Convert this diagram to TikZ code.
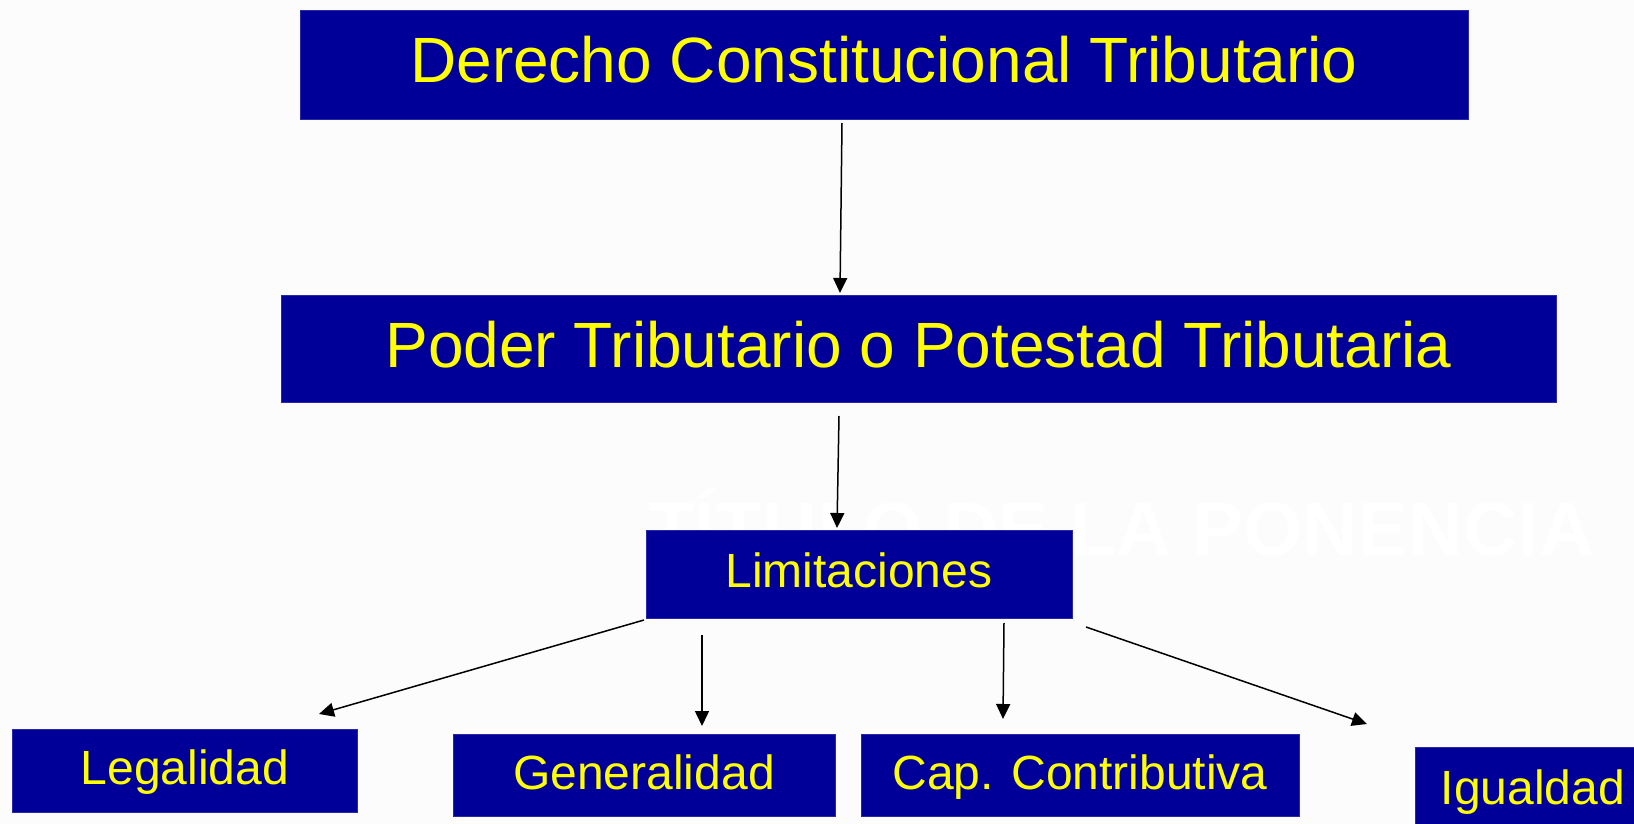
\documentclass[tikz,border=0pt]{standalone}
\usepackage{fontspec}
\setmainfont{Liberation Sans}
\usetikzlibrary{arrows.meta}
\definecolor{boxblue}{RGB}{0,0,153}
\definecolor{boxedge}{RGB}{40,40,170}
\definecolor{txtyellow}{RGB}{255,255,0}
\definecolor{bgwhite}{RGB}{252,252,252}
\tikzset{
  box/.style={rectangle, fill=boxblue, draw=boxedge, line width=1pt, inner sep=0pt,
    text=txtyellow, align=center},
  bigbox/.style={box, font=\fontsize{64}{64}\selectfont, text height=46pt, text depth=11pt},
  smallbox/.style={box, font=\fontsize{48}{48}\selectfont, text height=35pt, text depth=7pt},
  conn/.style={draw=black, line width=1.5pt, -{Triangle[length=15pt,width=14pt]}}
}
\begin{document}
\begin{tikzpicture}[x=1pt,y=-1pt]
\useasboundingbox (0,0) rectangle (1634,824);
\clip (0,0) rectangle (1634,824);
\fill[bgwhite] (0,0) rectangle (1634,824);
\node[anchor=base west, text=white, inner sep=0pt, font=\bfseries\fontsize{76}{76}\selectfont] (ghost) at (648,555) {TÍTULO DE LA PONENCIA};

\node[bigbox, minimum width=1168pt, minimum height=109pt] (dct) at (884,65.5) {Derecho Constitucional Tributario};
\node[bigbox, minimum width=1275pt, minimum height=107pt, text depth=9pt] (ptr) at (918.5,348.5) {Poder Tributario o Potestad Tributaria};
\node[smallbox, minimum width=426pt, minimum height=88pt, text depth=9pt] (lim) at (859,574) {Limitaciones};
\node[smallbox, minimum width=345pt, minimum height=83pt] (leg) at (185,770.5) {Legalidad};
\node[smallbox, minimum width=382pt, minimum height=82pt] (gen) at (644,775) {Generalidad};
\node[smallbox, minimum width=438pt, minimum height=82pt] (cap) at (1080,775) {Cap. Contributiva};
\node[smallbox, minimum width=236pt, minimum height=82pt, text depth=3pt] (igu) at (1533,788) {Igualdad};

\coordinate (a1s) at (842,123);  \coordinate (a1e) at (840,293);
\coordinate (a2s) at (839,416);  \coordinate (a2e) at (837,528);
\coordinate (a3s) at (644,620);  \coordinate (a3e) at (319,714);
\coordinate (a4s) at (702,635);  \coordinate (a4e) at (702,726);
\coordinate (a5s) at (1004,623); \coordinate (a5e) at (1003,719);
\coordinate (a6s) at (1086,627); \coordinate (a6e) at (1367,724);

\draw[conn] (a1s) -- (a1e);
\draw[conn] (a2s) -- (a2e);
\draw[conn] (a3s) -- (a3e);
\draw[conn] (a4s) -- (a4e);
\draw[conn] (a5s) -- (a5e);
\draw[conn] (a6s) -- (a6e);
\end{tikzpicture}
\end{document}
